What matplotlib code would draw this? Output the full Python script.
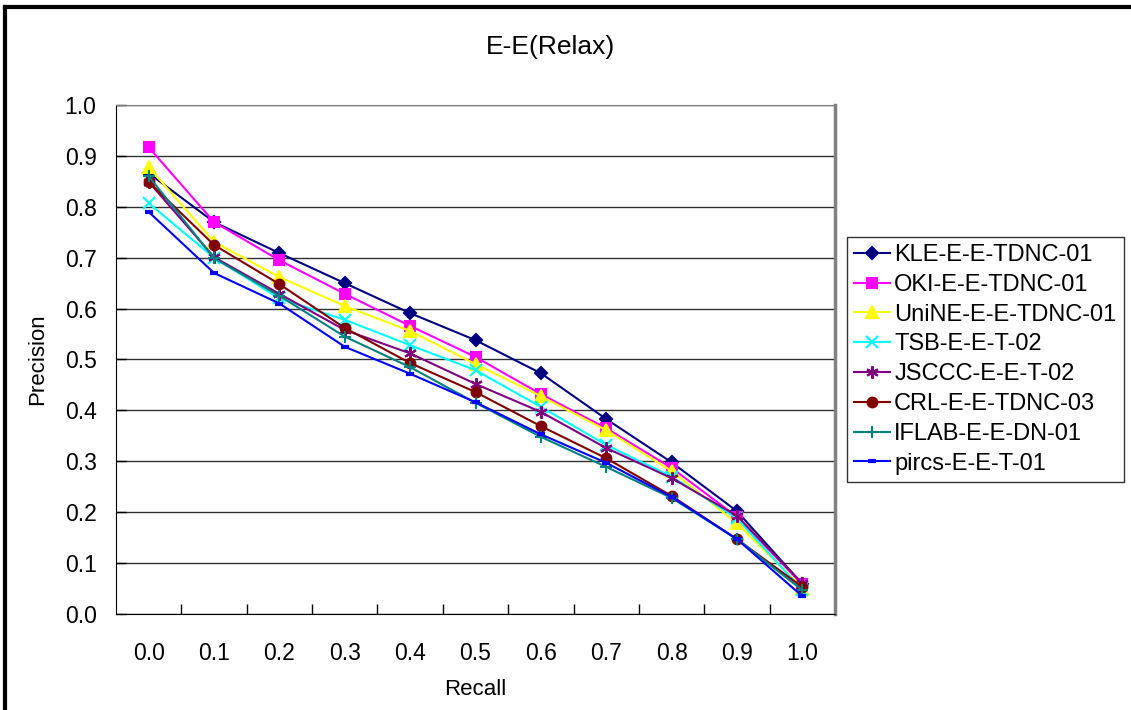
import matplotlib.pyplot as plt
from matplotlib.lines import Line2D
from matplotlib.ticker import FixedLocator

plt.rcParams['font.family'] = ['Liberation Sans', 'DejaVu Sans']

recall = ["0.0", "0.1", "0.2", "0.3", "0.4", "0.5", "0.6", "0.7", "0.8", "0.9", "1.0"]

kle = [0.866, 0.770, 0.709, 0.650, 0.591, 0.538, 0.473, 0.383, 0.298, 0.202, 0.059]
oki = [0.917, 0.770, 0.695, 0.629, 0.566, 0.505, 0.432, 0.365, 0.287, 0.191, 0.058]
unine = [0.878, 0.731, 0.662, 0.605, 0.556, 0.491, 0.428, 0.361, 0.281, 0.178, 0.052]
tsb = [0.807, 0.700, 0.620, 0.578, 0.528, 0.479, 0.407, 0.332, 0.270, 0.188, 0.047]
jsccc = [0.849, 0.701, 0.629, 0.558, 0.512, 0.452, 0.397, 0.326, 0.267, 0.193, 0.060]
crl = [0.849, 0.725, 0.648, 0.562, 0.493, 0.436, 0.369, 0.306, 0.232, 0.147, 0.053]
iflab = [0.860, 0.699, 0.625, 0.545, 0.485, 0.415, 0.348, 0.289, 0.228, 0.147, 0.047]
pircs = [0.790, 0.670, 0.610, 0.525, 0.472, 0.416, 0.353, 0.297, 0.230, 0.147, 0.035]

series = [
    ("KLE-E-E-TDNC-01", kle, "#000080", "D", 6),
    ("OKI-E-E-TDNC-01", oki, "#FF00FF", "s", 7),
    ("UniNE-E-E-TDNC-01", unine, "#FFFF00", "^", 8),
    ("TSB-E-E-T-02", tsb, "#00FFFF", "x", 8),
    ("JSCCC-E-E-T-02", jsccc, "#800080", (6, 2, 0), 9),
    ("CRL-E-E-TDNC-03", crl, "#800000", "o", 7),
    ("IFLAB-E-E-DN-01", iflab, "#008080", "+", 9),
    ("pircs-E-E-T-01", pircs, "#0000FF", "_", 6),
]

fig = plt.figure(figsize=(11.31, 7.1), dpi=100)
ax = fig.add_axes([116 / 1131, 1 - 614 / 710, 719 / 1131, 509 / 710])

xs = range(len(recall))
for name, vals, color, marker, ms in series:
    mew = 3 if marker == "_" else 1.5
    ax.plot(xs, vals, color=color, lw=1.5, marker=marker, ms=ms,
            mew=mew, mec=color, mfc=color, label=name)

ax.set_xlim(-0.5, len(recall) - 0.5)
ax.set_ylim(0, 1.0)
ax.set_yticks([i / 10 for i in range(11)])
ax.set_yticklabels([f"{i / 10:.1f}" for i in range(11)])
ax.set_xticks(list(xs))
ax.set_xticklabels(recall)
ax.xaxis.set_minor_locator(FixedLocator([i + 0.5 for i in range(len(recall) - 1)]))
ax.tick_params(axis="x", which="major", length=0, pad=20, labelsize=16.5)
ax.tick_params(axis="x", which="minor", direction="in", length=7, width=1)
ax.tick_params(axis="y", direction="in", length=7, width=1, pad=14, labelsize=16.5)

ax.grid(axis="y", color="#303030", lw=1)
ax.set_axisbelow(True)
ax.spines["left"].set_color("black")
ax.spines["bottom"].set_color("black")
ax.spines["top"].set_color("#808080")
ax.spines["right"].set_color("#808080")
ax.spines["right"].set_linewidth(2.5)

ax.set_xlabel("Recall", fontsize=16, labelpad=10)
ax.set_ylabel("Precision", fontsize=16, labelpad=12)
fig.text(551 / 1131, 1 - 47 / 710, "E-E(Relax)", fontsize=19, ha="center", va="center")

leg = fig.legend(loc="upper left", bbox_to_anchor=(847 / 1131, 1 - 237 / 710),
                 fontsize=17, frameon=True, fancybox=False, edgecolor="black",
                 handlelength=1.5, handletextpad=0.2, labelspacing=0.33,
                 borderpad=0.3, borderaxespad=0)
leg.get_frame().set_linewidth(1)

fig.add_artist(Line2D([5 / 1131, 5 / 1131], [0, 1 - 7 / 710], color="black", lw=3))
fig.add_artist(Line2D([5 / 1131, 1], [1 - 7 / 710, 1 - 7 / 710], color="black", lw=3))

fig.savefig("out.png", dpi=100)
